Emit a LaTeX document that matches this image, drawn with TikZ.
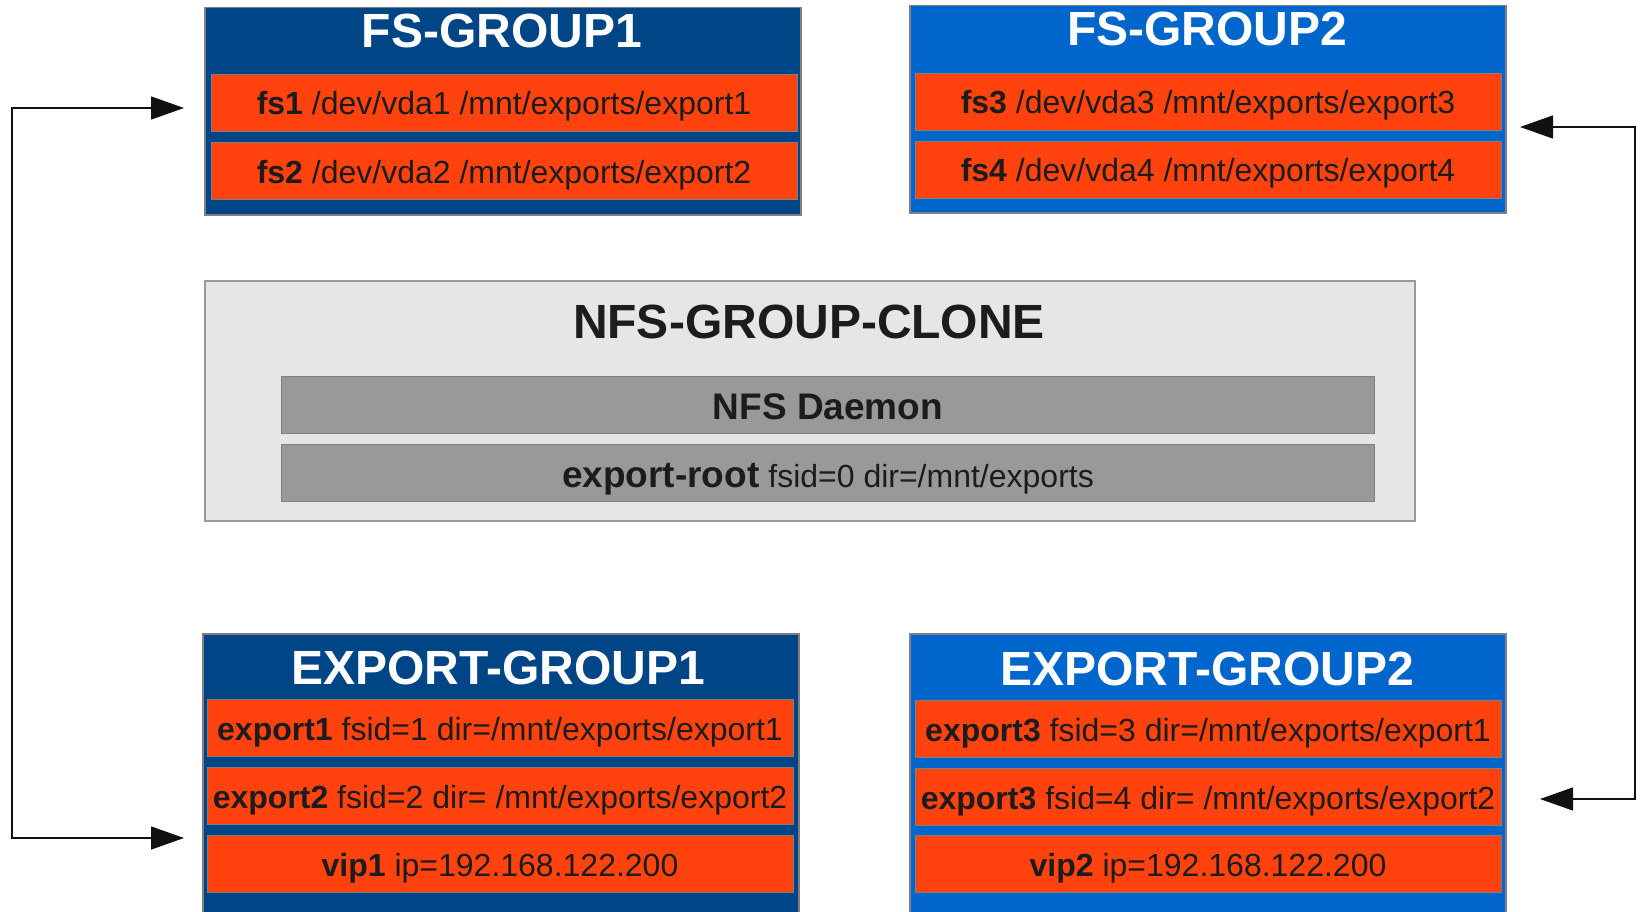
\documentclass[tikz,border=0pt]{standalone}
\usepackage{fontspec}
\setmainfont{Liberation Sans}
\usetikzlibrary{arrows.meta}

\definecolor{navy}{HTML}{004586}
\definecolor{azure}{HTML}{0066CC}
\definecolor{rowred}{HTML}{FF420E}
\definecolor{edge}{HTML}{808080}
\definecolor{ink}{HTML}{1C1C1C}
\definecolor{clonebg}{HTML}{E6E6E6}
\definecolor{daemon}{HTML}{999999}
\definecolor{wire}{HTML}{111111}

\begin{document}
\begin{tikzpicture}[x=1pt,y=-1pt,
  grp/.style={draw=edge, line width=1.5pt, anchor=north west, inner sep=0pt,
    minimum width=596pt},
  ttl/.style={inner sep=0pt, text=white,
    font=\fontsize{48}{48}\selectfont\bfseries, text height=34pt, text depth=0pt},
  row/.style={draw=edge, line width=1pt, fill=rowred, inner sep=0pt,
    minimum width=586pt, minimum height=57pt, text=ink,
    font=\fontsize{32}{32}\selectfont, text height=24pt, text depth=0pt},
  grayrow/.style={draw=edge, line width=1pt, fill=daemon, inner sep=0pt,
    minimum width=1093pt, minimum height=57pt, text=ink,
    font=\fontsize{32}{32}\selectfont, text height=28pt, text depth=0pt},
  conn/.style={{Triangle[length=33pt,width=23pt]}-{Triangle[length=33pt,width=23pt]},
    draw=wire, line width=1.3pt}
]
\clip (0,0) rectangle (1640,912);
\fill[white] (0,0) rectangle (1640,912);

% file-system groups
\node[grp, fill=navy, minimum height=207pt] (fsg1) at (204,7) {};
\node[ttl] (fsg1t) at (502,31) {FS-GROUP1};
\node[row] (fs1) at (504,103) {\textbf{fs1} /dev/vda1 /mnt/exports/export1};
\node[row] (fs2) at (504,171) {\textbf{fs2} /dev/vda2 /mnt/exports/export2};

\node[grp, fill=azure, minimum height=207pt] (fsg2) at (909,5) {};
\node[ttl] (fsg2t) at (1207,29) {FS-GROUP2};
\node[row] (fs3) at (1208,102) {\textbf{fs3} /dev/vda3 /mnt/exports/export3};
\node[row] (fs4) at (1208,170) {\textbf{fs4} /dev/vda4 /mnt/exports/export4};

% cloned NFS server group
\node[draw=edge!80, line width=1.5pt, fill=clonebg, anchor=north west, inner sep=0pt,
  minimum width=1210pt, minimum height=240pt] (clone) at (204,280) {};
\node[ttl, text=ink] (clonet) at (809,321) {NFS-GROUP-CLONE};
\node[grayrow] (nfsd) at (828,405) {\fontsize{37}{37}\selectfont\bfseries NFS Daemon};
\node[grayrow] (xroot) at (828,473) {{\fontsize{37}{37}\selectfont\bfseries export-root} fsid=0 dir=/mnt/exports};

% export groups
\node[grp, fill=navy, minimum height=300pt] (eg1) at (202,633) {};
\node[ttl] (eg1t) at (498,667) {EXPORT-GROUP1};
\node[row] (ex1) at (500,728) {\textbf{export1} fsid=1 dir=/mnt/exports/export1};
\node[row] (ex2) at (500,796) {\textbf{export2} fsid=2 dir= /mnt/exports/export2};
\node[row] (vip1) at (500,864) {\textbf{vip1} ip=192.168.122.200};

\node[grp, fill=azure, minimum height=300pt] (eg2) at (909,633) {};
\node[ttl] (eg2t) at (1207,668) {EXPORT-GROUP2};
\node[row] (ex3) at (1208,729) {\textbf{export3} fsid=3 dir=/mnt/exports/export1};
\node[row] (ex4) at (1208,797) {\textbf{export3} fsid=4 dir= /mnt/exports/export2};
\node[row] (vip2) at (1208,864) {\textbf{vip2} ip=192.168.122.200};

% links between the paired groups
\coordinate (la) at (184,108);
\coordinate (lb) at (184,838);
\coordinate (ra) at (1520,127);
\coordinate (rb) at (1540,799);
\draw[conn] (la) -- ++(-172,0) |- (lb);
\draw[conn] (ra) -- ++(115,0) |- (rb);
\end{tikzpicture}
\end{document}
